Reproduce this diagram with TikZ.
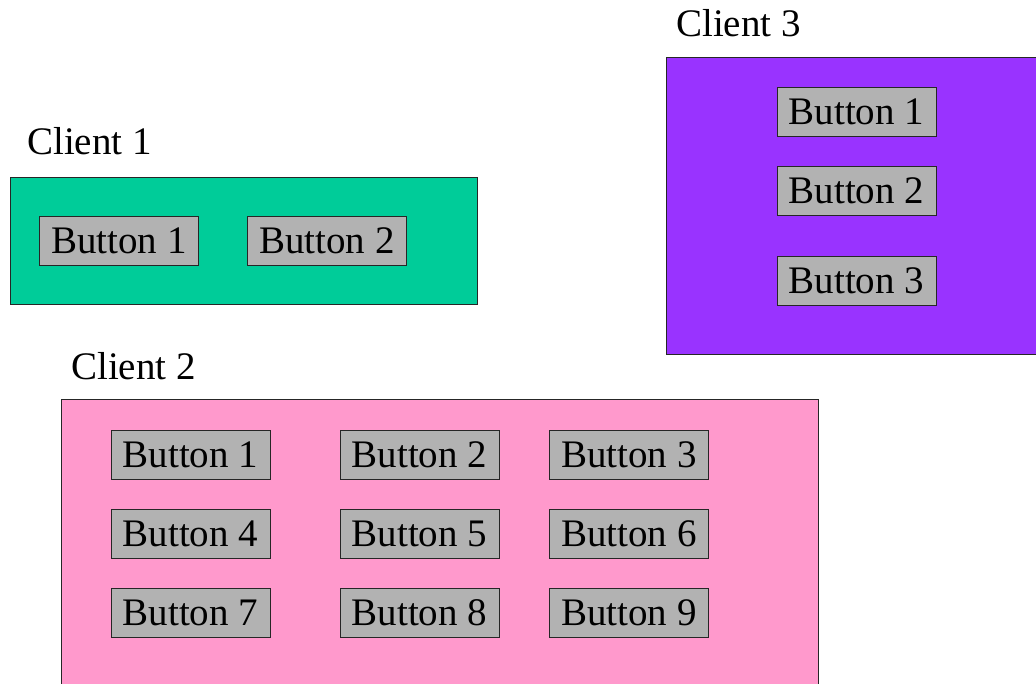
\documentclass[tikz,border=0pt]{standalone}
\usepackage{fontspec}
\setmainfont{Liberation Serif}
\definecolor{clientone}{HTML}{00CC99}
\definecolor{clienttwo}{HTML}{FF99CC}
\definecolor{clientthree}{HTML}{9933FF}
\definecolor{btngray}{HTML}{B2B2B2}

\begin{document}
\begin{tikzpicture}[x=1pt,y=-1pt,
  client/.style={draw=black!85,line width=1.3pt,anchor=north west,inner sep=0pt},
  button/.style={draw=black!85,line width=1pt,fill=btngray,minimum width=159pt,minimum height=49pt,inner sep=0pt},
  lbl/.style={anchor=base west,inner sep=0pt},
  font=\fontsize{39}{44}\selectfont]
\useasboundingbox (0,0) rectangle (1036,684);
\clip (0,0) rectangle (1036,684);
\node[client,fill=clientone,minimum width=467pt,minimum height=127pt] (c1) at (10,177) {};
\node[client,fill=clientthree,minimum width=420pt,minimum height=297pt] (c3) at (666,57) {};
\node[client,fill=clienttwo,minimum width=757pt,minimum height=330pt] (c2) at (61,399) {};
\node[lbl] (l1) at (27,155) {Client 1};
\node[lbl] (l3) at (676,37) {Client 3};
\node[lbl] (l2) at (71,380) {Client 2};
\node[button] (c1b1) at (119,241) {Button 1};
\node[button] (c1b2) at (327,241) {Button 2};
\foreach \y [count=\i] in {112,191,281}
  \node[button] (c3b\i) at (856.5,\y) {Button \i};
\foreach \y [count=\r from 0] in {454.5,533.5,613}
  \foreach \x [count=\c] in {190.5,419.5,629} {
    \pgfmathtruncatemacro{\n}{3*\r+\c}
    \node[button] (c2b\n) at (\x,\y) {Button \n};
  }
\end{tikzpicture}
\end{document}
